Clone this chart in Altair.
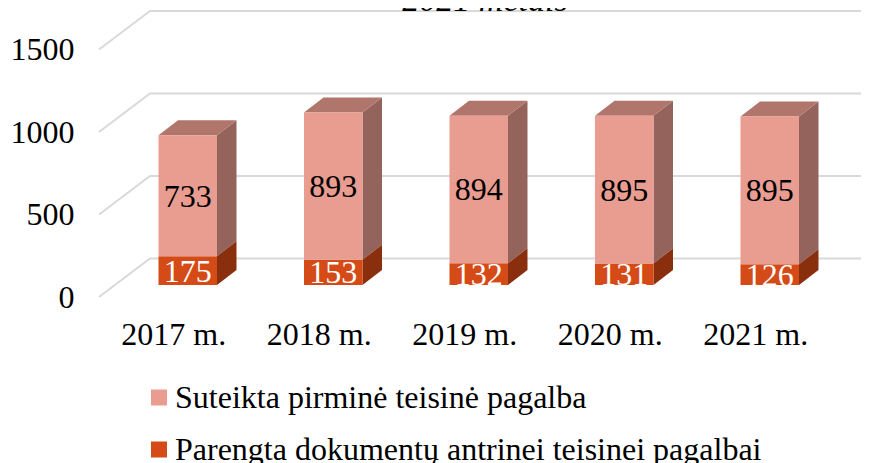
import altair as alt

YEARS = ["2017 m.", "2018 m.", "2019 m.", "2020 m.", "2021 m."]
PRIMARY = [733, 893, 894, 895, 895]
DOCS = [175, 153, 132, 131, 126]
S1 = "Suteikta pirminė teisinė pagalba"
S2 = "Parengta dokumentų antrinei teisinei pagalbai"
Y_TICKS = [0, 500, 1000, 1500]
TITLE = "2021 metais"

W, H = 853, 455
PX_U = 145.5          # pixels per category
PX_V = 0.165          # pixels per value unit
X0 = (8 - 187.75) / PX_U
X1 = X0 + W / PX_U
Y0 = (297 - 463) / PX_V
Y1 = Y0 + H / PX_V

HALF = 29.25 / PX_U
DX = 19.5 / PX_U
DV = 15 / PX_V
BASE = 12 / PX_V
FLOOR_L = (99 - 187.75) / PX_U
FLOOR_B = (150 - 187.75) / PX_U
FLOOR_R = (869 - 187.75) / PX_U
FLOOR_DV = 38.5 / PX_V

sc_x = alt.Scale(domain=[X0, X1], nice=False, zero=False)
sc_y = alt.Scale(domain=[Y0, Y1], nice=False, zero=False)

grid_rows = []
for t in Y_TICKS:
    grid_rows += [
        {"k": t, "o": 0, "x": FLOOR_L, "y": t},
        {"k": t, "o": 1, "x": FLOOR_B, "y": t + FLOOR_DV},
        {"k": t, "o": 2, "x": FLOOR_R, "y": t + FLOOR_DV},
    ]

front, side_a, side_b, top, labels_dark, labels_light = [], [], [], [], [], []
for i, (p, d) in enumerate(zip(PRIMARY, DOCS)):
    xl, xr = i - HALF, i + HALF
    a, b, c = BASE, BASE + d, BASE + d + p
    front.append({"x": xl, "x2": xr, "y": a, "y2": b, "s": S2})
    front.append({"x": xl, "x2": xr, "y": b, "y2": c, "s": S1})
    side_b += [{"i": i, "x": xr, "y": a, "y2": b}, {"i": i, "x": xr + DX, "y": a + DV, "y2": b + DV}]
    side_a += [{"i": i, "x": xr, "y": b, "y2": c}, {"i": i, "x": xr + DX, "y": b + DV, "y2": c + DV}]
    top += [
        {"i": i, "x": xl, "y": c, "y2": c},
        {"i": i, "x": xl + DX, "y": c, "y2": c + DV},
        {"i": i, "x": xr, "y": c, "y2": c + DV},
        {"i": i, "x": xr + DX, "y": c + DV, "y2": c + DV},
    ]
    labels_dark.append({"x": i, "y": b + p / 2, "t": str(p)})
    labels_light.append({"x": i, "y": a + d / 2, "t": str(d)})

FONT = "Liberation Serif"
AX_X = alt.Axis(
    values=list(range(len(YEARS))), title=None, domain=False, ticks=False, grid=False,
    labelExpr=f"{YEARS}[datum.value]", labelFont=FONT, labelFontSize=32, labelColor="#000000",
    labelOffset=-14.5, labelPadding=0, offset=-119, labelBound=False, labelFlush=False,
    labelOverlap=False, labelBaseline="alphabetic")
AX_Y = alt.Axis(
    values=Y_TICKS, format="d", title=None, domain=False, ticks=False, grid=False, labelFont=FONT,
    labelFontSize=32, labelColor="#000000", labelPadding=0, offset=-66, labelBound=False,
    labelFlush=False, labelOverlap=False)
X = alt.X("x:Q", scale=sc_x, axis=AX_X)
Y = alt.Y("y:Q", scale=sc_y, axis=AX_Y, stack=False)

grid = alt.Chart(alt.Data(values=grid_rows)).mark_line(color="#d9d9d9", strokeWidth=2).encode(
    x=X, y=Y, detail="k:N", order="o:Q")


def area(rows, col):
    layers = []
    for k in sorted({r["i"] for r in rows}):
        sub = [r for r in rows if r["i"] == k]
        layers.append(alt.Chart(alt.Data(values=sub)).mark_area(color=col, orient="vertical").encode(
            x=X, y=Y, y2=alt.Y2("y2")))
    return alt.layer(*layers)


faces = alt.Chart(alt.Data(values=front)).mark_rect(strokeWidth=0).encode(
    x=X, x2=alt.X2("x2"), y=Y, y2=alt.Y2("y2"),
    color=alt.Color("s:N", scale=alt.Scale(domain=[S1, S2], range=["#E99C90", "#D54B17"]), legend=alt.Legend(
        title=None, orient="none", legendX=135, legendY=373.5, symbolType="square", symbolSize=256,
        symbolStrokeWidth=0, labelFont=FONT, labelFontSize=32, labelColor="#000000", labelOffset=0,
        rowPadding=20, labelLimit=800, padding=0, symbolOpacity=1)))


def text(rows, col):
    return alt.Chart(alt.Data(values=rows)).mark_text(font=FONT, fontSize=32, color=col, baseline="middle", dy=1).encode(
        x=X, y=Y, text="t:N")


title = alt.Chart(alt.Data(values=[{"x": (485 - 187.75) / PX_U, "y": (297 - 11) / PX_V, "t": TITLE}])).mark_text(
    font=FONT, fontSize=34, fontStyle="italic", color="#000000", baseline="alphabetic").encode(
    x=X, y=Y, text="t:N")

chart = alt.layer(
    grid, area(side_a, "#94645C"), area(side_b, "#8A2F0E"), area(top, "#B0766B"), faces,
    text(labels_dark, "#000000"), text(labels_light, "#FFFFFF"), title,
).properties(width=W, height=H, autosize=alt.AutoSizeParams(type="none"), padding=0).configure_view(stroke=None)

chart.save("out.html", embed_options={"renderer": "svg", "actions": False})
